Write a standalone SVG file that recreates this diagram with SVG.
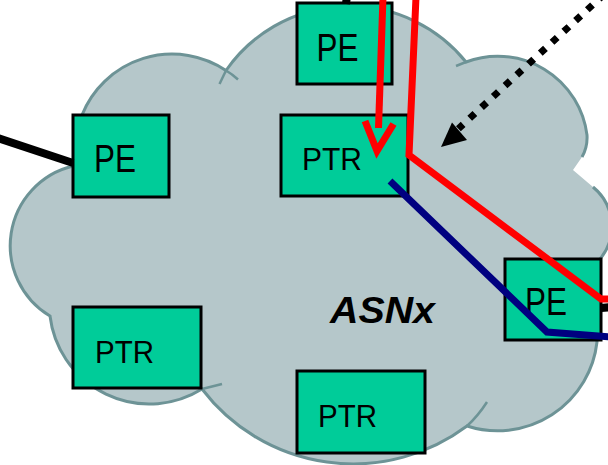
<svg xmlns="http://www.w3.org/2000/svg" width="608" height="465" viewBox="0 0 608 465">
<style>
.box{fill:#00cc99;stroke:#000;stroke-width:3}
.lbl{font-family:"Liberation Sans",Arial,sans-serif;fill:#000}
.pe{font-size:38px}
.ptr{font-size:31px}
.asn{font-size:37px;font-weight:bold;font-style:italic}
.cl{fill:none;stroke:#6d9396;stroke-width:3}
.tick{fill:none;stroke:#6d9396;stroke-width:2.5}
.red{fill:none;stroke:#ff0000;stroke-width:7}
.blk{fill:none;stroke:#000;stroke-width:8}
</style>
<rect width="608" height="465" fill="#ffffff"/>
<g id="cloud">
<path fill="#b5c7ca" d="M50,316 A82,82 0 0 1 73,166 L82,115 A97,97 0 0 1 226,70.5 A150,150 0 0 1 466,62 A90,90 0 0 1 587,135 A40,40 0 0 1 582,157 L573,170 L593,187 A51,51 0 0 1 600,259 L597,342 A100,100 0 0 1 467,426 A190,190 0 0 1 202,389 A100,100 0 0 1 50,316 Z"/>
<path class="cl" d="M593,187 A51,51 0 0 1 600,259 L597,342 A100,100 0 0 1 467,426 A190,190 0 0 1 202,389 A100,100 0 0 1 50,316 A82,82 0 0 1 73,166 L82,115 A97,97 0 0 1 226,70.5 A150,150 0 0 1 466,62 A90,90 0 0 1 587,135 A40,40 0 0 1 582,157"/>
<path class="tick" d="M226,70.5 L219.5,84"/>
<path class="tick" d="M226,70.5 Q232,74 238,79.5"/>
<path class="tick" d="M466,62 L456,66"/>
<path class="tick" d="M467,426 Q478,416 487,402"/>
<path class="tick" stroke-width="2" d="M202,389 L222,384"/>
<text class="lbl asn" x="330" y="323" textLength="105" lengthAdjust="spacingAndGlyphs">ASNx</text>
</g>
<g id="node-pe-top">
<rect class="box" x="297" y="3" width="95" height="81"/>
<text class="lbl pe" x="316.5" y="61" textLength="42" lengthAdjust="spacingAndGlyphs">PE</text>
</g>
<g id="node-pe-left">
<rect class="box" x="73" y="115" width="96" height="82"/>
<text class="lbl pe" x="94" y="172" textLength="42" lengthAdjust="spacingAndGlyphs">PE</text>
</g>
<g id="node-ptr-center">
<rect class="box" x="281" y="115" width="127" height="81"/>
<text class="lbl ptr" x="302" y="170" textLength="60" lengthAdjust="spacingAndGlyphs">PTR</text>
</g>
<g id="node-ptr-bottom-left">
<rect class="box" x="73" y="307" width="128" height="81"/>
<text class="lbl ptr" x="95" y="363" textLength="59" lengthAdjust="spacingAndGlyphs">PTR</text>
</g>
<g id="node-ptr-bottom">
<rect class="box" x="297" y="371" width="128" height="82"/>
<text class="lbl ptr" x="318" y="427" textLength="59" lengthAdjust="spacingAndGlyphs">PTR</text>
</g>
<g id="node-pe-right">
<rect class="box" x="505" y="259" width="96" height="81"/>
<text class="lbl pe" x="525" y="315" textLength="42" lengthAdjust="spacingAndGlyphs">PE</text>
</g>
<g id="connectors">
<line class="blk" stroke-width="7" x1="-2" y1="138" x2="73" y2="163"/>
<line class="blk" x1="346" y1="4" x2="347" y2="-5"/>
<line class="blk" stroke-width="7" x1="601" y1="308" x2="612" y2="307"/>
<polyline class="red" points="416,-3 409,155 601,299 612,299"/>
<line class="red" x1="383" y1="-3" x2="378.5" y2="128"/>
<polyline class="red" stroke-width="5.5" points="365,121 377,151 393.5,124"/>
<polyline fill="none" stroke="#000080" stroke-width="7" points="390,181 547,332 612,337"/>
<line stroke="#000" stroke-width="7" stroke-dasharray="7 9" x1="616" y1="-16.7" x2="458.4" y2="128.7"/>
<polygon fill="#000" points="441,147 452,122.5 467,140"/>
</g>
</svg>
